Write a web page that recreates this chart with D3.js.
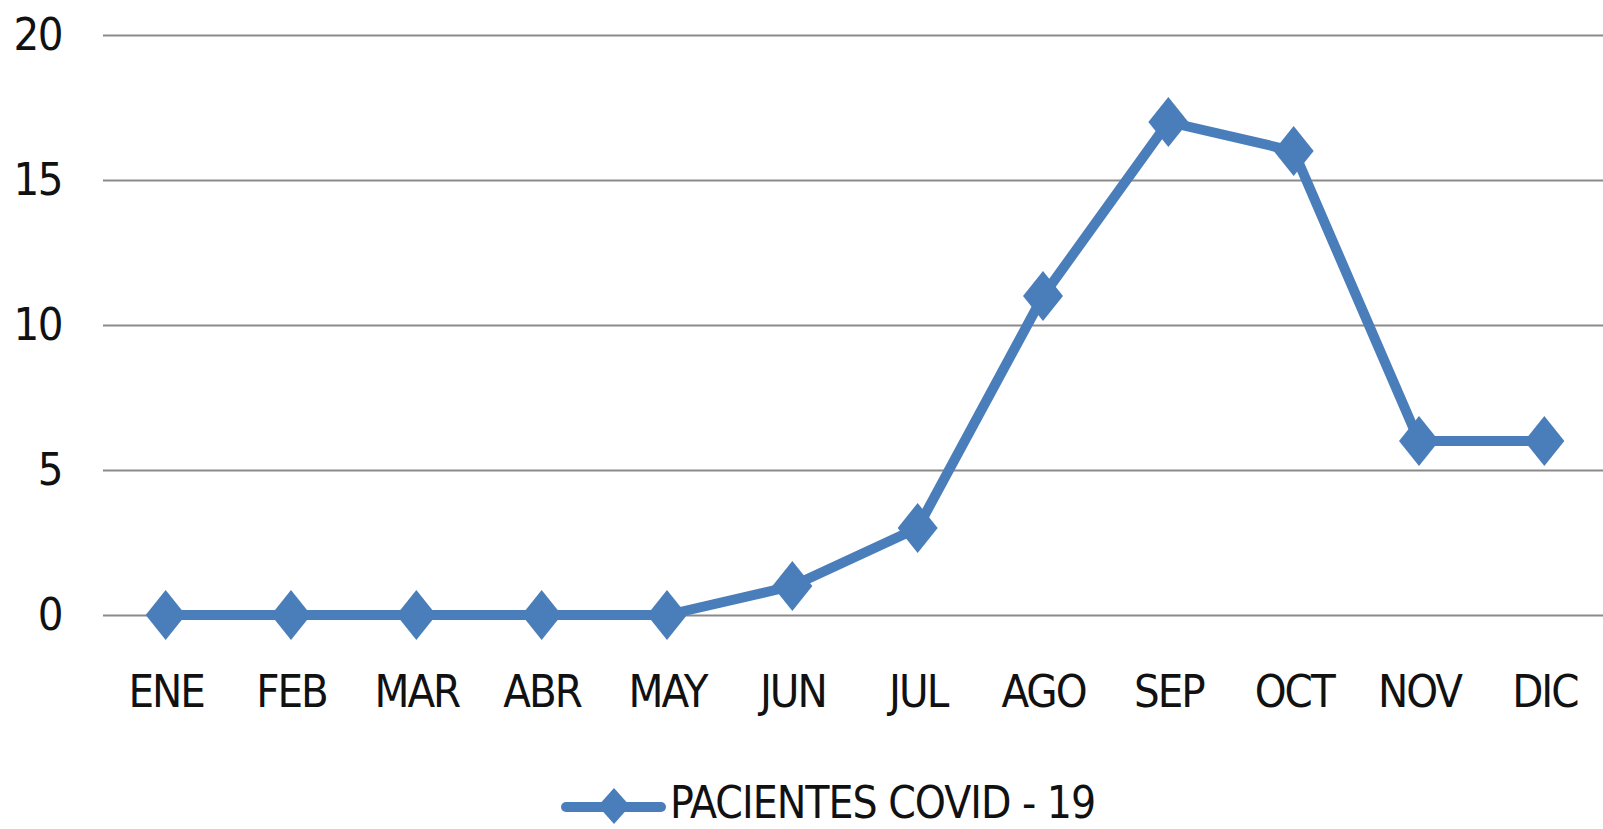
<!DOCTYPE html>
<html>
<head>
<meta charset="utf-8">
<script src="https://cdn.jsdelivr.net/npm/d3@7"></script>
<style>
  body { margin: 0; background: #fff; }
  text { font-family: "Liberation Sans Narrow", "DejaVu Sans Condensed", "Liberation Sans", sans-serif; fill: #111; }
</style>
</head>
<body>
<svg id="chart"></svg>
<script>
var months = ["ENE","FEB","MAR","ABR","MAY","JUN","JUL","AGO","SEP","OCT","NOV","DIC"];
var pacientes = [0,0,0,0,0,1,3,11,17,16,6,6];
var yTicks = [0,5,10,15,20];
var seriesName = "PACIENTES COVID - 19";

var W = 1603, H = 829;
var margin = {top: 35, left: 103, right: -4, bottom: 214};
var color = "#4A7EBB";

var svg = d3.select("#chart")
    .attr("width", W)
    .attr("height", H);

var x = d3.scalePoint()
    .domain(months)
    .range([margin.left, W - margin.right])
    .padding(0.5);

var y = d3.scaleLinear()
    .domain([0, 20])
    .range([H - margin.bottom, margin.top]);

// gridlines + y labels
var yAxis = svg.append("g")
    .attr("transform", "translate(" + margin.left + ",0)")
    .call(d3.axisLeft(y).tickValues(yTicks).tickSize(-(W - margin.right - margin.left)).tickPadding(41));
yAxis.select(".domain").remove();
yAxis.selectAll(".tick line").attr("stroke", "#8a8a8a").attr("stroke-width", 2);
yAxis.selectAll(".tick text")
    .attr("font-size", "45px")
    .attr("letter-spacing", "-1.5px")
    .attr("fill", "#111");

// x labels
var xAxis = svg.append("g")
    .attr("transform", "translate(0," + y(0) + ")")
    .call(d3.axisBottom(x).tickSize(0));
xAxis.select(".domain").remove();
xAxis.selectAll(".tick text")
    .attr("y", 92)
    .attr("dy", 0)
    .attr("font-size", "45px")
    .attr("letter-spacing", "-2px")
    .attr("fill", "#111");

var line = d3.line()
    .x(function(d, i) { return x(months[i]); })
    .y(function(d) { return y(d); });

svg.append("path")
    .datum(pacientes)
    .attr("d", line)
    .attr("fill", "none")
    .attr("stroke", color)
    .attr("stroke-width", 10)
    .attr("stroke-linejoin", "round");

function diamond(cx, cy, hw, hh) {
  return "M" + cx + "," + (cy - hh) + "L" + (cx + hw) + "," + cy + "L" + cx + "," + (cy + hh) + "L" + (cx - hw) + "," + cy + "Z";
}

svg.append("g")
  .selectAll("path")
  .data(pacientes)
  .enter()
  .append("path")
    .attr("d", function(d, i) { return diamond(x(months[i]), y(d), 20, 25); })
    .attr("fill", color);

// legend
var lg = svg.append("g");
lg.append("line")
    .attr("x1", 566).attr("x2", 661)
    .attr("y1", 807).attr("y2", 807)
    .attr("stroke", color)
    .attr("stroke-width", 10)
    .attr("stroke-linecap", "round");
lg.append("path")
    .attr("d", diamond(614, 806, 16, 18))
    .attr("fill", color);
lg.append("text")
    .attr("x", 670)
    .attr("y", 818)
    .attr("font-size", "44px")
    .attr("letter-spacing", "-1px")
    .text(seriesName);
</script>
</body>
</html>
